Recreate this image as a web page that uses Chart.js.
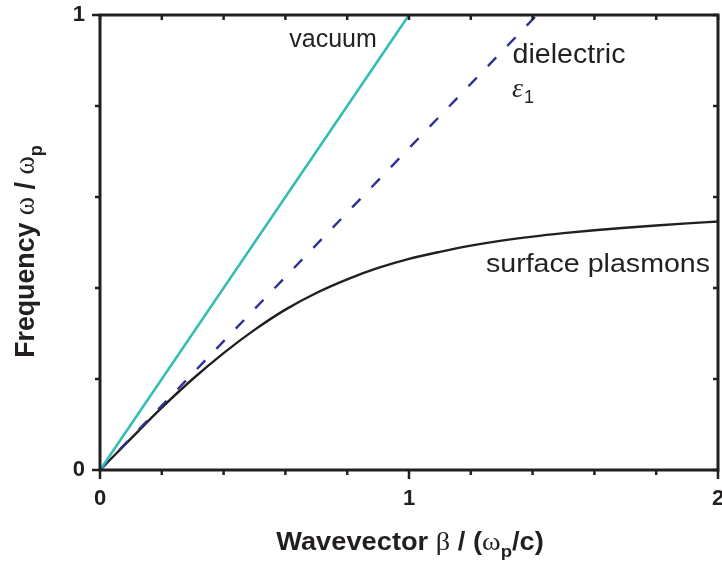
<!DOCTYPE html>
<html>
<head>
<meta charset="utf-8">
<script src="https://cdn.jsdelivr.net/npm/chart.js@4.4.1/dist/chart.umd.min.js"></script>
<style>
  html, body { margin: 0; padding: 0; background: #fff; }
  #wrap { width: 722px; height: 565px; }
</style>
</head>
<body>
<div id="wrap"><canvas id="chart" width="722" height="565"></canvas></div>
<script>
// light line in vacuum, light line in the dielectric (eps1 = 2), SPP dispersion
const vacuumX = [0, 1]
const vacuumY = [0, 1]
const dielectricX = [0, 1.414]
const dielectricY = [0, 1]
const plasmonX = [0, 0.1, 0.2, 0.3, 0.4, 0.5, 0.6, 0.7, 0.8, 0.9, 1.0, 1.1, 1.2, 1.3, 1.4, 1.5, 1.6, 1.7, 1.8, 1.9, 2.0]
const plasmonY = [0, 0.069, 0.137, 0.200, 0.257, 0.308, 0.3525, 0.389, 0.419, 0.444, 0.464, 0.4795, 0.493, 0.504, 0.513, 0.5205, 0.527, 0.5325, 0.5375, 0.542, 0.546]

const xTickValues = [0, 1, 2]
const xTickLabels = ["0", "1", "2"]
const yTickValues = [0, 1]
const yTickLabels = ["0", "1"]

const INK = "#231f20"
const SANS = "'Liberation Sans', Arial, sans-serif"
const SERIF = "'Liberation Serif', 'Times New Roman', serif"

const toPoints = (xs, ys) => xs.map((x, i) => ({ x: x, y: ys[i] }))

function labelFor(values, labels, v) {
  const i = values.findIndex(t => Math.abs(t - v) < 1e-6)
  return i >= 0 ? labels[i] : ""
}

// draws a run of text pieces (different fonts / subscripts) centred on x
function drawRich(ctx, parts, x, y, stretch) {
  ctx.save()
  ctx.translate(x, y)
  ctx.scale(stretch, 1)
  let total = 0
  parts.forEach(p => { ctx.font = p.font; total += ctx.measureText(p.text).width })
  let cx = -total / 2
  ctx.fillStyle = INK
  ctx.textBaseline = "alphabetic"
  ctx.textAlign = "left"
  parts.forEach(p => {
    ctx.font = p.font
    ctx.fillText(p.text, cx, p.dy || 0)
    cx += ctx.measureText(p.text).width
  })
  ctx.restore()
}

const framePlugin = {
  id: "frame",
  afterDatasetsDraw(chart) {
    const { ctx, chartArea: a, scales } = chart
    ctx.save()
    ctx.strokeStyle = INK
    ctx.lineWidth = 3
    ctx.strokeRect(a.left, a.top, a.right - a.left, a.bottom - a.top)

    ctx.lineWidth = 2.5
    ctx.beginPath()
    scales.x.ticks.forEach(t => {
      const px = scales.x.getPixelForValue(t.value)
      const major = labelFor(xTickValues, xTickLabels, t.value) !== ""
      ctx.moveTo(px, a.bottom)
      ctx.lineTo(px, a.bottom + (major ? 9 : 5))
      ctx.moveTo(px, a.top)
      ctx.lineTo(px, a.top + 5)
    })
    scales.y.ticks.forEach(t => {
      const py = scales.y.getPixelForValue(t.value)
      const major = labelFor(yTickValues, yTickLabels, t.value) !== ""
      ctx.moveTo(a.left, py)
      ctx.lineTo(a.left - (major ? 8 : 5), py)
      ctx.moveTo(a.right, py)
      ctx.lineTo(a.right - 5, py)
    })
    ctx.stroke()
    ctx.restore()
  },
  afterDraw(chart) {
    const { ctx, chartArea: a } = chart
    const midX = (a.left + a.right) / 2
    const midY = (a.top + a.bottom) / 2

    // x axis title
    drawRich(ctx, [
      { text: "Wavevector ", font: `bold 25px ${SANS}` },
      { text: "\u03b2", font: `26px ${SERIF}` },
      { text: " / (", font: `bold 25px ${SANS}` },
      { text: "\u03c9", font: `26px ${SERIF}` },
      { text: "p", font: `bold 17px ${SANS}`, dy: 7 },
      { text: "/c)", font: `bold 25px ${SANS}` }
    ], midX + 1, 550, 1.09)

    // y axis title (rotated)
    ctx.save()
    ctx.translate(34, midY + 9)
    ctx.rotate(-Math.PI / 2)
    ctx.scale(1, 1.12)
    drawRich(ctx, [
      { text: "Frequency ", font: `bold 25px ${SANS}` },
      { text: "\u03c9", font: `26px ${SERIF}` },
      { text: " / ", font: `bold 25px ${SANS}` },
      { text: "\u03c9", font: `26px ${SERIF}` },
      { text: "p", font: `bold 17px ${SANS}`, dy: 7 }
    ], 0, 0, 1.07)
    ctx.restore()

    // curve annotations
    drawRich(ctx, [{ text: "vacuum", font: `25px ${SANS}` }], 333, 47, 1.0)
    drawRich(ctx, [{ text: "dielectric", font: `27px ${SANS}` }], 569, 63, 1.06)
    ctx.save()
    ctx.fillStyle = INK
    ctx.textAlign = "left"
    ctx.font = `italic 28px ${SERIF}`
    ctx.fillText("\u03b5", 512, 97)
    ctx.font = `18px ${SANS}`
    ctx.fillText("1", 524, 103)
    ctx.restore()
    drawRich(ctx, [{ text: "surface plasmons", font: `26px ${SANS}` }], 598, 272, 1.1)
  }
}

new Chart(document.getElementById("chart"), {
  type: "scatter",
  data: {
    datasets: [
      {
        label: "vacuum",
        data: toPoints(vacuumX, vacuumY),
        showLine: true,
        borderColor: "#33bdb3",
        borderWidth: 2.6,
        pointRadius: 0
      },
      {
        label: "dielectric",
        data: toPoints(dielectricX, dielectricY),
        showLine: true,
        borderColor: "#2e3192",
        borderWidth: 2.4,
        borderDash: [12, 16],
        pointRadius: 0
      },
      {
        label: "surface plasmons",
        data: toPoints(plasmonX, plasmonY),
        showLine: true,
        borderColor: INK,
        borderWidth: 2.4,
        cubicInterpolationMode: "monotone",
        pointRadius: 0
      }
    ]
  },
  options: {
    responsive: false,
    animation: false,
    layout: { padding: { top: 15, right: 4, left: 0, bottom: 0 } },
    plugins: {
      legend: { display: false },
      tooltip: { enabled: false }
    },
    scales: {
      x: {
        type: "linear",
        min: 0,
        max: 2,
        afterFit(s) { s.height = 95; s.paddingLeft = 0; s.paddingRight = 0 },
        grid: { display: false, drawTicks: false },
        border: { display: false },
        ticks: {
          stepSize: 0.2,
          autoSkip: false,
          maxRotation: 0,
          padding: 16,
          color: INK,
          font: { family: SANS, size: 22, weight: "bold" },
          callback: v => labelFor(xTickValues, xTickLabels, v)
        }
      },
      y: {
        type: "linear",
        min: 0,
        max: 1,
        afterFit(s) { s.width = 100; s.paddingTop = 0; s.paddingBottom = 0 },
        grid: { display: false, drawTicks: false },
        border: { display: false },
        ticks: {
          stepSize: 0.2,
          autoSkip: false,
          padding: 15,
          color: INK,
          font: { family: SANS, size: 22, weight: "bold" },
          callback: v => labelFor(yTickValues, yTickLabels, v)
        }
      }
    }
  },
  plugins: [framePlugin]
})
</script>
</body>
</html>
